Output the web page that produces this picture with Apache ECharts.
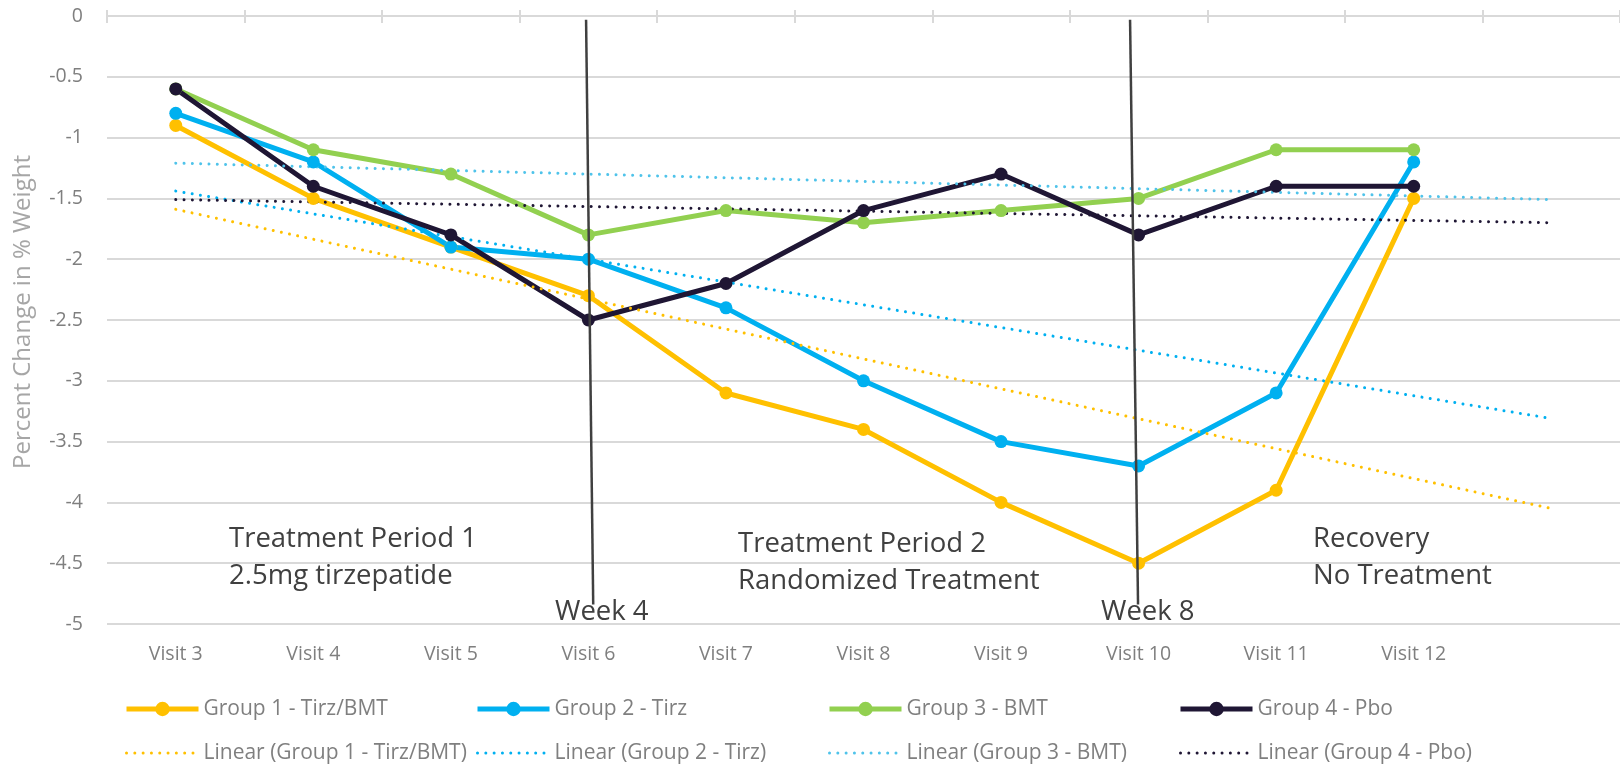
<!DOCTYPE html>
<html>
<head>
<meta charset="utf-8">
<title>Percent Change in % Weight</title>
<script src="https://cdn.jsdelivr.net/npm/echarts@6/dist/echarts.min.js"></script>
<style>
  html, body { margin: 0; padding: 0; background: #fff; }
  #chart { width: 1620px; height: 766px; }
</style>
</head>
<body>
<div id="chart"></div>
<script>
  // categories (last slot is empty: the trend lines run one visit further)
  const visits = ['Visit 3', 'Visit 4', 'Visit 5', 'Visit 6', 'Visit 7', 'Visit 8', 'Visit 9', 'Visit 10', 'Visit 11', 'Visit 12', ''];

  const group1 = [-0.9, -1.5, -1.9, -2.3, -3.1, -3.4, -4.0, -4.5, -3.9, -1.5];
  const group2 = [-0.8, -1.2, -1.9, -2.0, -2.4, -3.0, -3.5, -3.7, -3.1, -1.2];
  const group3 = [-0.6, -1.1, -1.3, -1.8, -1.6, -1.7, -1.6, -1.5, -1.1, -1.1];
  const group4 = [-0.6, -1.4, -1.8, -2.5, -2.2, -1.6, -1.3, -1.8, -1.4, -1.4];

  // trend lines: [visit index, value] at start and end
  const trend1 = [[0, -1.59], [10, -4.05]];
  const trend2 = [[0, -1.44], [10, -3.31]];
  const trend3 = [[0, -1.21], [10, -1.51]];
  const trend4 = [[0, -1.51], [10, -1.70]];

  // hand drawn week markers (slightly slanted)
  const week4Line = [[2.983, -0.03], [3.035, -4.84]];
  const week8Line = [[6.938, -0.03], [6.996, -4.84]];

  const yTicks = [0, -0.5, -1, -1.5, -2, -2.5, -3, -3.5, -4, -4.5, -5];

  const chart = echarts.init(document.getElementById('chart'));

  const font = '"Open Sans", "Noto Sans", sans-serif';
  const dotted = [0.01, 8.3];

  function solid(name, data, color) {
    return {
      name: name,
      type: 'line',
      data: data,
      xAxisIndex: 0,
      symbol: 'circle',
      symbolSize: 13,
      lineStyle: {width: 5, color: color},
      itemStyle: {color: color},
      animation: false
    };
  }

  function trend(name, data, color) {
    return {
      name: name,
      type: 'line',
      data: data,
      xAxisIndex: 3,
      symbol: 'none',
      lineStyle: {width: 3, color: color, type: dotted, cap: 'round'},
      itemStyle: {color: color},
      animation: false
    };
  }

  function marker(data) {
    return {
      type: 'line',
      data: data,
      xAxisIndex: 3,
      symbol: 'none',
      silent: true,
      z: 5,
      lineStyle: {width: 2.5, color: '#404040'},
      animation: false
    };
  }

  function legendCol(left, names) {
    return {
      orient: 'vertical',
      left: left,
      top: 697,
      height: 100,
      itemWidth: 72,
      itemHeight: 18,
      itemGap: 20,
      padding: 0,
      data: [names[0], {name: names[1], itemStyle: {opacity: 0}}],
      lineStyle: {width: 'inherit'},
      textStyle: {color: '#7f7f7f', fontSize: 21, fontFamily: font, lineHeight: 24}
    };
  }

  const noteStyle = {fill: '#404040', fontSize: 27.5, fontFamily: font, verticalAlign: 'middle'};

  const option = {
    backgroundColor: '#fff',
    grid: {left: 107, top: 16, width: 1527, height: 608},
    xAxis: [{
      type: 'category',
      data: visits,
      position: 'bottom',
      axisLine: {show: false},
      axisTick: {show: false},
      splitLine: {show: false},
      axisLabel: {color: '#7f7f7f', fontSize: 19.5, fontFamily: font, margin: 20}
    }, {
      type: 'category',
      data: visits,
      position: 'top',
      axisLine: {show: true, lineStyle: {color: '#d9d9d9', width: 2}},
      axisTick: {show: true, length: 6, lineStyle: {color: '#d9d9d9', width: 2}},
      axisLabel: {show: false}
    }, {
      type: 'category',
      data: visits,
      position: 'top',
      axisLine: {show: false},
      axisTick: {show: true, inside: true, length: 7, lineStyle: {color: '#d9d9d9', width: 2}},
      axisLabel: {show: false}
    }, {
      type: 'value',
      min: -0.5,
      max: 10.5,
      show: false
    }],
    yAxis: {
      type: 'value',
      min: yTicks[yTicks.length - 1],
      max: yTicks[0],
      interval: 0.5,
      axisLine: {show: false},
      axisTick: {show: false},
      splitLine: {lineStyle: {color: '#d9d9d9', width: 2}},
      axisLabel: {color: '#7f7f7f', fontSize: 19.5, fontFamily: font, margin: 24}
    },
    legend: [
      legendCol(124, ['Group 1 - Tirz/BMT', 'Linear (Group 1 - Tirz/BMT)']),
      legendCol(475, ['Group 2 - Tirz', 'Linear (Group 2 - Tirz)']),
      legendCol(827, ['Group 3 - BMT', 'Linear (Group 3 - BMT)']),
      legendCol(1178, ['Group 4 - Pbo', 'Linear (Group 4 - Pbo)'])
    ],
    graphic: [
      {type: 'text', x: 23, y: 312, rotation: Math.PI / 2,
        style: {text: 'Percent Change in % Weight', fill: '#a6a6a6', fontSize: 24, fontFamily: font,
          align: 'center', verticalAlign: 'middle'}},
      {type: 'text', x: 229, y: 539, style: Object.assign({text: 'Treatment Period 1'}, noteStyle)},
      {type: 'text', x: 229, y: 576, style: Object.assign({text: '2.5mg tirzepatide'}, noteStyle)},
      {type: 'text', x: 555, y: 612, style: Object.assign({text: 'Week 4'}, noteStyle)},
      {type: 'text', x: 738, y: 544, style: Object.assign({text: 'Treatment Period 2'}, noteStyle)},
      {type: 'text', x: 738, y: 581, style: Object.assign({text: 'Randomized Treatment'}, noteStyle)},
      {type: 'text', x: 1101, y: 612, style: Object.assign({text: 'Week 8'}, noteStyle)},
      {type: 'text', x: 1313, y: 539, style: Object.assign({text: 'Recovery'}, noteStyle)},
      {type: 'text', x: 1313, y: 576, style: Object.assign({text: 'No Treatment'}, noteStyle)}
    ],
    series: [
      solid('Group 1 - Tirz/BMT', group1, '#ffc000'),
      solid('Group 2 - Tirz', group2, '#00b0f0'),
      solid('Group 3 - BMT', group3, '#92d050'),
      solid('Group 4 - Pbo', group4, '#1f1634'),
      trend('Linear (Group 1 - Tirz/BMT)', trend1, '#ffc000'),
      trend('Linear (Group 2 - Tirz)', trend2, '#00b0f0'),
      trend('Linear (Group 3 - BMT)', trend3, '#4fc3ea'),
      trend('Linear (Group 4 - Pbo)', trend4, '#1f1634'),
      marker(week4Line),
      marker(week8Line)
    ]
  };

  chart.setOption(option);
</script>
</body>
</html>
